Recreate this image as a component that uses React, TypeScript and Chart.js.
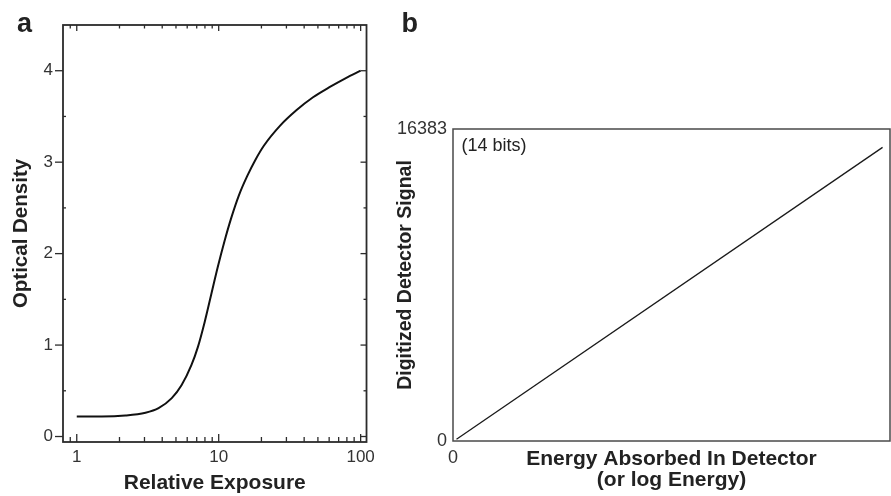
import React, { useEffect, useRef } from 'react';
import { Chart, registerables } from 'chart.js';

Chart.register(...registerables);

// Panel a: characteristic curve of film
const exposure = [1, 1.5, 2.2, 3.05, 3.77, 4.67, 5.47, 6.42, 7.14, 7.96, 8.85, 9.84, 10.96, 12.2, 13.9, 15.9, 18.2, 20.8, 27.1, 35.4, 46.2, 60.3, 78.7, 100];
const density = [0.22, 0.22, 0.23, 0.26, 0.31, 0.42, 0.56, 0.78, 0.98, 1.25, 1.55, 1.85, 2.13, 2.38, 2.64, 2.85, 3.03, 3.18, 3.4, 3.57, 3.71, 3.82, 3.92, 4.0];
const xTicksA = [1, 10, 100];
const xMinorA = [0.9, 2, 3, 4, 5, 6, 7, 8, 9, 20, 30, 40, 50, 60, 70, 80, 90];
const yTicksA = [0, 1, 2, 3, 4];
const yMinorA = [0.5, 1.5, 2.5, 3.5];

// Panel b: linear digital detector
const energy = [0.008, 0.983];
const signal = [90, 15420];
const yTicksB = [0, 16383];
const xTicksB = [0];

const FONT = '"Liberation Sans", Arial, Helvetica, sans-serif';
const INK = '#2b2b2b';

const framePluginA = {
  id: 'frameA',
  afterDatasetsDraw(chart: any) {
    const { ctx, chartArea, scales } = chart;
    const { left, right, top, bottom } = chartArea;
    const x = scales.x;
    const y = scales.y;
    ctx.save();
    ctx.strokeStyle = INK;
    ctx.lineWidth = 1.3;
    const line = (x1: number, y1: number, x2: number, y2: number) => {
      ctx.beginPath();
      ctx.moveTo(x1, y1);
      ctx.lineTo(x2, y2);
      ctx.stroke();
    };
    for (const v of xTicksA) {
      const px = x.getPixelForValue(v);
      line(px, bottom, px, bottom - 8);
      line(px, top, px, top + 6);
    }
    for (const v of xMinorA) {
      const px = x.getPixelForValue(v);
      line(px, bottom, px, bottom - 5);
      line(px, top, px, top + 3.5);
    }
    for (const v of yTicksA) {
      const py = y.getPixelForValue(v);
      line(left - 8, py, left, py);
      line(right, py, right - 6, py);
    }
    for (const v of yMinorA) {
      const py = y.getPixelForValue(v);
      line(left, py, left + 3, py);
      line(right, py, right - 3, py);
    }
    ctx.lineWidth = 1.8;
    ctx.strokeRect(left, top, right - left, bottom - top);
    ctx.restore();
  },
};

const framePluginB = {
  id: 'frameB',
  afterDatasetsDraw(chart: any) {
    const { ctx, chartArea } = chart;
    const { left, right, top, bottom } = chartArea;
    ctx.save();
    ctx.strokeStyle = '#4a4a4a';
    ctx.lineWidth = 1.5;
    ctx.strokeRect(left, top, right - left, bottom - top);
    ctx.restore();
  },
};

export default function App() {
  const refA = useRef<HTMLCanvasElement | null>(null);
  const refB = useRef<HTMLCanvasElement | null>(null);

  useEffect(() => {
    document.body.style.margin = '0';
    const chartA = new Chart(refA.current as HTMLCanvasElement, {
      type: 'line',
      data: {
        datasets: [
          {
            data: exposure.map((e, i) => ({ x: e, y: density[i] })),
            borderColor: '#111111',
            borderWidth: 2,
            pointRadius: 0,
            cubicInterpolationMode: 'monotone',
            fill: false,
          },
        ],
      },
      options: {
        animation: false,
        responsive: false,
        maintainAspectRatio: false,
        layout: { padding: { top: 25, right: 9.3, left: 0, bottom: 0 } },
        plugins: { legend: { display: false }, tooltip: { enabled: false } },
        scales: {
          x: {
            type: 'logarithmic',
            min: 0.8,
            max: 110,
            grid: { display: false, drawTicks: false },
            border: { display: false },
            afterBuildTicks: (s: any) => {
              s.ticks = xTicksA.map((v) => ({ value: v }));
            },
            afterFit: (s: any) => {
              s.height = 54;
            },
            ticks: {
              padding: 5,
              color: '#333',
              font: { family: FONT, size: 17 },
              callback: (v: any) => String(v),
              maxRotation: 0,
              autoSkip: false,
            },
            title: {
              display: true,
              text: 'Relative Exposure',
              color: '#222',
              font: { family: FONT, size: 21, weight: 'bold', lineHeight: 1 },
              padding: { top: 0, bottom: 2.5 },
            },
          },
          y: {
            type: 'linear',
            min: -0.06,
            max: 4.5,
            grid: { display: false, drawTicks: false },
            border: { display: false },
            afterBuildTicks: (s: any) => {
              s.ticks = yTicksA.map((v) => ({ value: v }));
            },
            afterFit: (s: any) => {
              s.width = 63;
            },
            ticks: {
              padding: 10,
              color: '#333',
              font: { family: FONT, size: 17 },
              callback: (v: any) => String(v),
            },
            title: {
              display: true,
              text: 'Optical Density',
              color: '#222',
              font: { family: FONT, size: 20.5, weight: 'bold', lineHeight: 1 },
              padding: { top: 11.5, bottom: 0 },
            },
          },
        },
      } as any,
      plugins: [framePluginA],
    });

    const chartB = new Chart(refB.current as HTMLCanvasElement, {
      type: 'line',
      data: {
        datasets: [
          {
            data: energy.map((e, i) => ({ x: e, y: signal[i] })),
            borderColor: '#1a1a1a',
            borderWidth: 1.3,
            pointRadius: 0,
            fill: false,
          },
        ],
      },
      options: {
        animation: false,
        responsive: false,
        maintainAspectRatio: false,
        layout: { padding: { top: 129, right: 1, left: 0, bottom: 0 } },
        plugins: { legend: { display: false }, tooltip: { enabled: false } },
        scales: {
          x: {
            type: 'linear',
            min: 0,
            max: 1,
            grid: { display: false, drawTicks: false },
            border: { display: false },
            afterBuildTicks: (s: any) => {
              s.ticks = xTicksB.map((v) => ({ value: v }));
            },
            afterFit: (s: any) => {
              s.height = 55;
            },
            ticks: {
              padding: 6,
              color: '#333',
              font: { family: FONT, size: 18 },
              callback: (v: any) => String(v),
              maxRotation: 0,
              autoSkip: false,
            },
            title: {
              display: true,
              text: ['Energy Absorbed In Detector', '(or log Energy)'],
              color: '#222',
              font: { family: FONT, size: 21, weight: 'bold', lineHeight: 1 },
              padding: { top: 0, bottom: 5.5 },
            },
          },
          y: {
            type: 'linear',
            min: 0,
            max: 16383,
            grid: { display: false, drawTicks: false },
            border: { display: false },
            afterBuildTicks: (s: any) => {
              s.ticks = yTicksB.map((v) => ({ value: v }));
            },
            afterFit: (s: any) => {
              s.width = 73;
            },
            ticks: {
              padding: 6,
              color: '#333',
              font: { family: FONT, size: 18 },
              callback: (v: any) => String(v),
            },
            title: { display: false },
          },
        },
      } as any,
      plugins: [framePluginB],
    });

    return () => {
      chartA.destroy();
      chartB.destroy();
    };
  }, []);

  const labelStyle: React.CSSProperties = {
    position: 'absolute',
    fontFamily: FONT,
    fontWeight: 'bold',
    fontSize: 27,
    lineHeight: '27px',
    color: '#222',
    margin: 0,
  };

  return (
    <div style={{ position: 'absolute', left: 0, top: 0, width: 891, height: 496, background: '#fff', overflow: 'hidden' }}>
      <canvas ref={refA} width={380} height={496} style={{ position: 'absolute', left: 0, top: 0, width: 380, height: 496 }} />
      <canvas ref={refB} width={511} height={496} style={{ position: 'absolute', left: 380, top: 0, width: 511, height: 496 }} />
      <div style={{ ...labelStyle, left: 17, top: 9.5 }}>a</div>
      <div style={{ ...labelStyle, left: 401.5, top: 9.5 }}>b</div>
      <div
        style={{
          position: 'absolute',
          left: 404,
          top: 275,
          transform: 'translate(-50%, -50%) rotate(-90deg)',
          fontFamily: FONT,
          fontWeight: 'bold',
          fontSize: 19.5,
          lineHeight: '20px',
          color: '#222',
          whiteSpace: 'nowrap',
        }}
      >
        Digitized Detector Signal
      </div>
      <div
        style={{
          position: 'absolute',
          left: 461.5,
          top: 136,
          fontFamily: FONT,
          fontSize: 18,
          lineHeight: '18px',
          color: '#222',
          whiteSpace: 'nowrap',
        }}
      >
        (14 bits)
      </div>
    </div>
  );
}
